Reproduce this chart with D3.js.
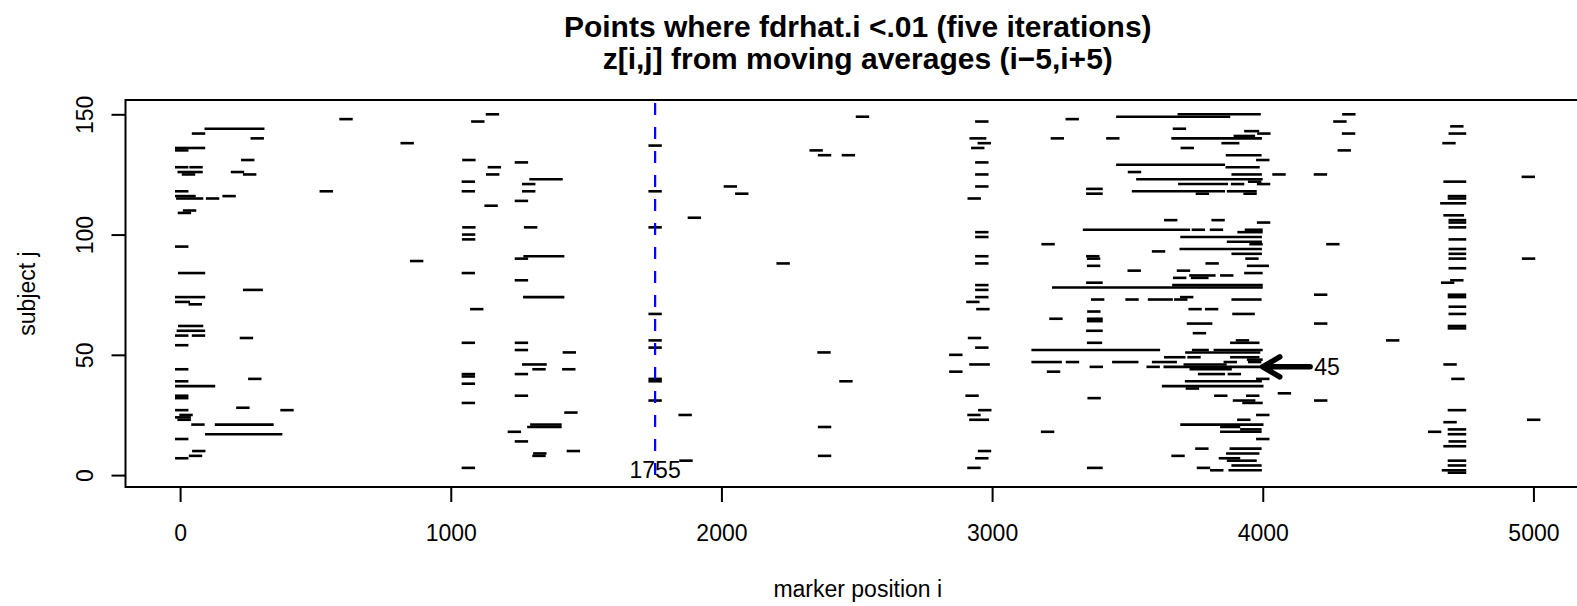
<!DOCTYPE html>
<html>
<head>
<meta charset="utf-8">
<style>
body { margin: 0; background: #fff; }
svg { display: block; background: #fff; }
</style>
</head>
<body>
<svg width="1577" height="606"></svg>
<script src="https://cdn.jsdelivr.net/npm/d3@7/dist/d3.min.js"></script>
<script>
// runs of points where fdrhat.i < .01 : [first marker i, last marker i, subject j]
var runsNearZero = [
  [613,613,148], [115,287,144], [68,68,142], [285,285,140], [6,68,136], [6,6,135], [250,250,131],
  [6,6,128], [59,59,128], [15,59,126], [31,31,125], [212,212,126], [257,257,125], [6,6,118],
  [540,540,118], [6,33,116], [10,61,115], [120,120,115], [181,181,116], [35,35,110], [16,16,109],
  [6,6,95], [17,68,84], [257,281,77], [6,68,74], [6,12,72], [56,56,71], [17,61,62], [12,68,60],
  [6,6,58], [68,68,58], [245,245,57], [6,6,54], [6,6,44], [276,276,40], [6,6,39], [6,105,37],
  [6,6,33], [6,6,32], [232,232,28], [395,395,27], [6,6,27], [22,22,25], [6,15,24], [15,15,23],
  [66,66,21], [153,321,21], [117,353,17], [6,6,15], [69,69,10], [57,57,8], [6,6,7]
];

var runsNear1000 = [
  [1154,1154,150], [1100,1100,147], [839,839,138], [1067,1067,131], [1261,1261,130], [1161,1161,128],
  [1155,1155,125], [1065,1065,122], [1315,1389,123], [1288,1288,121], [1065,1065,118], [1288,1288,118],
  [1261,1261,114], [1149,1149,112], [1067,1067,103], [1295,1295,103], [1066,1066,100], [1066,1066,98],
  [1293,1395,91], [1261,1261,90], [874,874,89], [1065,1065,84], [1261,1261,81], [1292,1395,74],
  [1096,1096,69], [1065,1065,55], [1261,1261,55], [1261,1261,52], [1438,1438,51], [1288,1330,46],
  [1326,1326,44], [1436,1436,44], [1261,1261,42], [1065,1065,42], [1065,1065,41], [1065,1065,38],
  [1261,1261,33], [1065,1065,30], [1444,1444,26], [1318,1385,21], [1307,1385,20], [1235,1235,18],
  [1261,1261,14], [1453,1453,10], [1329,1329,9], [1326,1326,8], [1065,1065,3]
];

var runsNear2000 = [
  [1755,1755,137], [2521,2521,149], [2350,2350,135], [2381,2381,133], [2469,2469,133], [1755,1755,118],
  [2033,2033,120], [2075,2075,117], [1900,1900,107], [1755,1755,103], [2228,2228,88], [1755,1755,67],
  [1755,1755,56], [1755,1755,53], [2379,2379,51], [1755,1755,40], [1755,1755,39], [2460,2460,39],
  [1755,1755,31], [1866,1866,25], [2381,2381,20], [2381,2381,8], [1869,1869,6]
];

var runsNear3000 = [
  [2962,2962,147], [2941,2954,140], [2971,2971,138], [2947,2947,136], [2962,2962,130], [2962,2962,125],
  [2962,2962,120], [2934,2934,115], [2962,2962,101], [2962,2962,99], [2962,2962,91], [2962,2962,88],
  [2962,2962,79], [2962,2962,77], [2962,2962,74], [2929,2929,72], [2966,2966,69], [2935,2935,57],
  [2962,2962,53], [2866,2866,50], [2940,2967,46], [2866,2866,43], [2926,2926,33], [2973,2973,27],
  [2933,2933,25], [2940,2964,23], [2972,2972,10], [2962,2962,7], [2933,2933,3]
];

var runsDense = [
  [3296,3296,148], [3241,3241,140], [3446,3446,140], [3372,3384,119], [3372,3384,117], [3360,3707,102],
  [3207,3207,96], [3372,3372,91], [3375,3375,90], [3375,3375,87], [3372,3384,80], [3246,3975,78],
  [3390,3390,73], [3376,3376,68], [3236,3236,65], [3375,3384,65], [3375,3384,64], [3372,3384,60],
  [3375,3382,55], [3170,3596,52], [3170,3233,47], [3297,3297,47], [3385,3385,45], [3227,3227,43],
  [3377,3377,32], [3205,3205,18], [3375,3384,3],
  [3710,3968,150], [3483,3855,149], [3692,3692,144], [3956,3962,143], [4004,4004,142], [3917,3947,141],
  [3687,3972,140], [3721,3721,136], [3872,3889,138], [3888,3971,133], [4000,4000,131], [3483,3836,129],
  [3887,3964,128], [3526,3526,126], [3909,3972,125], [3557,3975,123], [3970,3970,122], [3712,3847,121],
  [3907,3907,121], [4003,4003,121], [3541,3836,118], [3892,3953,118], [3777,3777,117], [3953,3953,117],
  [3660,3660,106], [3835,3835,106], [4003,4003,105], [3762,3762,102], [3829,3829,102], [3958,3975,102],
  [3931,3975,101], [3720,3972,99], [3892,3972,97], [3975,3975,96], [3717,3972,94], [3615,3615,93],
  [3909,3972,92], [3960,3960,90], [3813,3813,88], [3966,3998,87], [3525,3525,85], [3707,3707,85],
  [3956,3975,84], [3753,3801,83], [3867,3867,83], [3693,3693,82], [3759,3775,82], [3690,3975,79],
  [3517,3517,73], [3600,3643,73], [3697,3697,73], [3719,3719,74], [3909,3971,73], [3750,3750,69],
  [3811,3811,69], [3912,3946,67], [3744,3789,63], [3766,3766,59], [3925,3925,56], [3904,3963,55],
  [3763,3776,52], [3843,3975,52], [3738,3966,51], [3660,3690,49], [3746,3746,49], [3904,3963,49],
  [3966,3975,48], [3468,3516,47], [3615,3658,47], [3880,3880,47], [3970,3970,47], [3595,3595,45],
  [3658,3978,45], [3732,3842,46], [3754,3861,44], [3785,3836,42], [3895,3895,42], [4000,4000,40],
  [3737,3972,39], [3652,3978,37], [3740,3740,36], [3845,3845,33], [3963,3963,33], [3914,3948,31],
  [3949,3975,30], [4000,4000,25], [3930,3930,23], [3720,3978,21], [3867,3892,20], [3867,3971,18],
  [3941,3971,19], [4000,4000,15], [3775,3775,11], [3902,3971,11], [3889,3963,9], [3687,3687,8],
  [3862,3892,7], [3892,3953,6], [3909,3971,4], [3781,3781,3], [3830,3830,2], [3898,3972,2]
];

var runsNear4300 = [
  [4318,4318,150], [4285,4285,147], [4317,4317,142], [4301,4301,135], [4060,4060,125], [4213,4213,125],
  [4259,4259,96], [4214,4214,75], [4214,4214,63], [4480,4480,56], [4080,4080,34], [4214,4214,31]
];

var runsNear4700 = [
  [4717,4717,145], [4711,4727,142], [4688,4688,138], [4692,4727,122], [4708,4727,116], [4708,4727,115],
  [4680,4727,113], [4692,4719,108], [4711,4727,106], [4711,4727,105], [4711,4727,103], [4711,4727,98],
  [4711,4727,94], [4711,4727,92], [4711,4727,90], [4711,4727,86], [4717,4717,81], [4683,4683,80],
  [4708,4727,75], [4708,4727,74], [4711,4727,70], [4711,4727,67], [4708,4727,62], [4708,4727,61],
  [4692,4692,46], [4721,4721,40], [4708,4727,27], [4692,4692,22], [4635,4635,18], [4708,4727,19],
  [4708,4727,17], [4711,4727,14], [4692,4727,12], [4708,4727,6], [4708,4727,4], [4686,4727,2],
  [4708,4727,1]
];

var runsNear5000 = [[4981,4981,124], [4982,4982,90], [5001,5001,23]];

var xTicks = [0, 1000, 2000, 3000, 4000, 5000];
var yTicks = [0, 50, 100, 150];
var markedPosition = 1755;   // blue dashed line
var markedSubject = 45;      // arrow
var arrowFrom = 4175, arrowTo = 4000, labelAt = 4190;

var font = "'Liberation Sans', Arial, Helvetica, sans-serif";

var svg = d3.select("svg"),
    plot = {left: 125.5, right: 1590, top: 100, bottom: 487},
    half = 6.7; // half width of the "-" plotting symbol in px

var x = d3.scaleLinear().domain([-201.7, 5209]).range([plot.left, plot.right]);
var y = d3.scaleLinear().domain([-4.95, 155.95]).range([plot.bottom, plot.top]);

var runs = [].concat(runsNearZero, runsNear1000, runsNear2000, runsNear3000,
                     runsDense, runsNear4300, runsNear4700, runsNear5000);

svg.append("g")
    .attr("class", "runs")
  .selectAll("line")
  .data(runs)
  .enter().append("line")
    .attr("x1", function(d) { return x(d[0]) - half; })
    .attr("x2", function(d) { return x(d[1]) + half; })
    .attr("y1", function(d) { return y(d[2]); })
    .attr("y2", function(d) { return y(d[2]); })
    .attr("stroke", "#000")
    .attr("stroke-width", 2.6);

// vertical marker at 1755
svg.append("line")
    .attr("x1", x(markedPosition)).attr("x2", x(markedPosition))
    .attr("y1", plot.top).attr("y2", plot.bottom)
    .attr("stroke", "#0000ff")
    .attr("stroke-width", 2.2)
    .attr("stroke-dasharray", "12,12")
    .attr("stroke-dashoffset", -3);

svg.append("text")
    .attr("x", x(markedPosition))
    .attr("y", y(2))
    .attr("dy", "0.35em")
    .attr("text-anchor", "middle")
    .attr("font-family", font)
    .attr("font-size", 23)
    .text(markedPosition);

// arrow to subject 45
var ay = y(markedSubject), tip = x(arrowTo);
svg.append("path")
    .attr("d", "M" + x(arrowFrom) + "," + ay + "L" + tip + "," + ay +
               "M" + (tip + 17) + "," + (ay - 10) + "L" + tip + "," + ay + "L" + (tip + 17) + "," + (ay + 10))
    .attr("fill", "none")
    .attr("stroke", "#000")
    .attr("stroke-width", 5.5)
    .attr("stroke-linecap", "round")
    .attr("stroke-linejoin", "round");

svg.append("text")
    .attr("x", x(labelAt))
    .attr("y", ay)
    .attr("dy", "0.35em")
    .attr("font-family", font)
    .attr("font-size", 23)
    .text(markedSubject);

// box
svg.append("rect")
    .attr("x", plot.left).attr("y", plot.top)
    .attr("width", plot.right - plot.left)
    .attr("height", plot.bottom - plot.top)
    .attr("fill", "none")
    .attr("stroke", "#000")
    .attr("stroke-width", 2);

// axes
var gx = svg.append("g")
    .attr("transform", "translate(0," + plot.bottom + ")")
    .call(d3.axisBottom(x).tickValues(xTicks).tickSize(15).tickPadding(23).tickFormat(d3.format("d")));
gx.select(".domain").remove();
gx.attr("font-family", font).attr("font-size", 23);
gx.selectAll("line").attr("stroke-width", 2);
gx.selectAll("text").attr("fill", "#000");

var gy = svg.append("g")
    .attr("transform", "translate(" + plot.left + ",0)")
    .call(d3.axisLeft(y).tickValues(yTicks).tickSize(14));
gy.select(".domain").remove();
gy.attr("font-family", font).attr("font-size", 23);
gy.selectAll("line").attr("stroke-width", 2);
gy.selectAll("text")
    .attr("fill", "#000")
    .attr("text-anchor", "middle")
    .attr("x", 0)
    .attr("y", -33)
    .attr("dy", null)
    .attr("transform", "rotate(-90)");

// titles
var cx = (plot.left + plot.right) / 2;
svg.append("text")
    .attr("x", cx).attr("y", 37)
    .attr("text-anchor", "middle")
    .attr("font-family", font).attr("font-size", 30).attr("font-weight", "bold")
    .text("Points where fdrhat.i <.01 (five iterations)");
svg.append("text")
    .attr("x", cx).attr("y", 69)
    .attr("text-anchor", "middle")
    .attr("font-family", font).attr("font-size", 30).attr("font-weight", "bold")
    .text("z[i,j] from moving averages (i\u22125,i+5)");

svg.append("text")
    .attr("x", cx).attr("y", 597)
    .attr("text-anchor", "middle")
    .attr("font-family", font).attr("font-size", 23)
    .text("marker position i");

svg.append("text")
    .attr("transform", "translate(35," + ((plot.top + plot.bottom) / 2) + ") rotate(-90)")
    .attr("text-anchor", "middle")
    .attr("font-family", font).attr("font-size", 23)
    .text("subject j");
</script>
</body>
</html>
